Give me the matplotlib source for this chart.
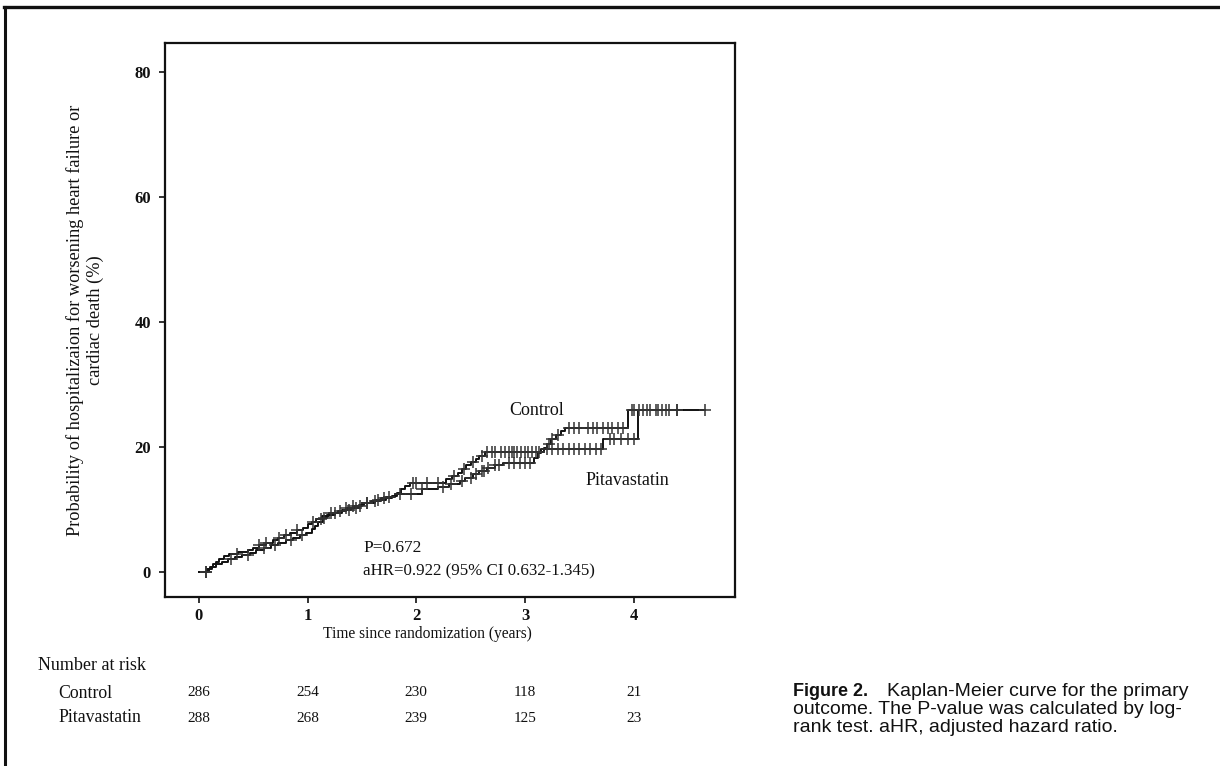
import numpy as np
import matplotlib
matplotlib.use("Agg")
import matplotlib.pyplot as plt
from matplotlib import transforms, font_manager
from matplotlib.lines import Line2D

# Kaplan-Meier cumulative incidence (%) - event times (years) and level after each step
ctrl_t = [0.00, 0.08, 0.10, 0.13, 0.16, 0.19, 0.23, 0.28, 0.36, 0.45,
          0.50, 0.55, 0.62, 0.68, 0.73, 0.78, 0.84, 0.90, 0.96, 1.00,
          1.04, 1.08, 1.13, 1.20, 1.28, 1.35, 1.42, 1.50, 1.58, 1.68,
          1.78, 1.82, 1.86, 1.90, 1.94, 2.27, 2.33, 2.38, 2.42, 2.46,
          2.50, 2.55, 2.58, 2.63, 3.17, 3.20, 3.24, 3.28, 3.33, 3.37,
          3.95]
ctrl_p = [0, 0.4, 0.8, 1.2, 1.6, 2.1, 2.5, 2.9, 3.2, 3.5,
          3.9, 4.3, 4.7, 5.1, 5.5, 5.9, 6.3, 6.7, 7.1, 7.6,
          8.0, 8.5, 9.0, 9.4, 9.8, 10.2, 10.6, 11.0, 11.4, 11.8,
          12.2, 12.7, 13.2, 13.7, 14.2, 14.8, 15.3, 15.9, 16.5, 17.1,
          17.6, 18.1, 18.6, 19.2, 19.8, 20.5, 21.2, 21.9, 22.5, 23.1,
          25.9]
ctrl_end = 4.65
ctrl_cens = [0.07, 0.35, 0.55, 0.62, 0.74, 0.80, 0.90, 1.05, 1.12, 1.22,
             1.30, 1.35, 1.42, 1.48, 1.55, 1.62, 1.70, 1.97, 2.00, 2.10,
             2.20, 2.35, 2.44, 2.52, 2.60, 2.65, 2.70, 2.72, 2.78, 2.82,
             2.85, 2.88, 2.90, 2.93, 2.96, 3.00, 3.03, 3.06, 3.10, 3.13,
             3.22, 3.25, 3.30, 3.40, 3.45, 3.50, 3.58, 3.62, 3.66, 3.72,
             3.76, 3.80, 3.85, 3.90, 3.98, 4.00, 4.05, 4.12, 4.20, 4.26,
             4.32, 4.40, 4.65]

pit_t = [0.00, 0.09, 0.12, 0.16, 0.21, 0.27, 0.33, 0.40, 0.47, 0.53,
         0.60, 0.66, 0.73, 0.80, 0.87, 0.93, 0.99, 1.04, 1.07, 1.10,
         1.14, 1.18, 1.25, 1.32, 1.40, 1.47, 1.52, 1.62, 1.72, 1.80,
         2.05, 2.20, 2.30, 2.40, 2.45, 2.52, 2.58, 2.65, 2.72, 2.80,
         3.08, 3.12, 3.15, 3.72, 4.04]
pit_p = [0, 0.4, 0.8, 1.2, 1.6, 2.0, 2.4, 2.7, 3.1, 3.5,
         3.9, 4.3, 4.7, 5.1, 5.5, 5.9, 6.3, 6.8, 7.4, 8.0,
         8.6, 9.1, 9.5, 9.9, 10.3, 10.7, 11.1, 11.5, 12.0, 12.5,
         13.2, 13.6, 14.1, 14.6, 15.1, 15.6, 16.1, 16.6, 17.1, 17.5,
         18.3, 19.0, 19.7, 21.3, 25.9]
pit_end = 4.45
pit_cens = [0.07, 0.30, 0.45, 0.60, 0.70, 0.85, 0.95, 1.15, 1.25, 1.38,
            1.45, 1.55, 1.65, 1.75, 1.85, 1.95, 2.05, 2.25, 2.32, 2.42,
            2.50, 2.55, 2.60, 2.62, 2.66, 2.72, 2.76, 2.85, 2.90, 2.95,
            3.00, 3.05, 3.20, 3.25, 3.30, 3.35, 3.40, 3.45, 3.50, 3.55,
            3.60, 3.65, 3.70, 3.78, 3.82, 3.88, 3.95, 4.00, 4.08, 4.15,
            4.22, 4.30, 4.40]

x_ticks = [0, 1, 2, 3, 4]
y_ticks = [0, 20, 40, 60, 80]

risk_groups = ["Control", "Pitavastatin"]
risk_ctrl = [286, 254, 230, 118, 21]
risk_pit = [288, 268, 239, 125, 23]

SERIF = ["Liberation Serif", "DejaVu Serif"]
SANS = ["Liberation Sans", "DejaVu Sans"]
installed = {f.name for f in font_manager.fontManager.ttflist}
NARROW = ["Liberation Sans Narrow"] + SANS if "Liberation Sans Narrow" in installed else SANS
narrow_size = 14 if NARROW[0] == "Liberation Sans Narrow" else 13

W, H = 1220, 766
fig = plt.figure(figsize=(W / 100, H / 100), dpi=100)
fig.patch.set_facecolor("white")


def fx(px):
    return px / W


def fy(py):
    return 1 - py / H


ax = fig.add_axes([fx(165), fy(597), fx(735) - fx(165), fy(43) - fy(597)])
ax.set_xlim(-0.31, 4.93)
ax.set_ylim(-4.0, 84.6)


def level_at(times, levels, query):
    idx = np.searchsorted(np.asarray(times), np.asarray(query), side="right") - 1
    return np.asarray(levels)[idx]


ink = "#111111"
for times, levels, end, cens in [(ctrl_t, ctrl_p, ctrl_end, ctrl_cens),
                                 (pit_t, pit_p, pit_end, pit_cens)]:
    xs = list(times) + [end]
    ys = list(levels) + [levels[-1]]
    ax.plot(xs, ys, drawstyle="steps-post", color=ink, lw=1.4, zorder=3)
    ax.plot(cens, level_at(times, levels, cens), ls="none", marker="+",
            ms=8, mew=1.1, color="#333333", zorder=4)

ax.text(3.11, 25.9, "Control", fontsize=13, family=SERIF, ha="center",
        va="center", color=ink)
ax.text(3.94, 14.6, "Pitavastatin", fontsize=13, family=SERIF, ha="center",
        va="center", color=ink)
ax.text(1.51, 3.9, "P=0.672", fontsize=12.5, family=SERIF, ha="left",
        va="center", color=ink)
ax.text(1.51, 0.1, "aHR=0.922 (95% CI 0.632-1.345)", fontsize=12.2,
        family=SERIF, ha="left", va="center", color=ink)

ax.set_xticks(x_ticks)
ax.set_yticks(y_ticks)
for lab in ax.get_xticklabels() + ax.get_yticklabels():
    lab.set_family(SERIF)
    lab.set_fontweight("bold")
    lab.set_fontsize(12)
ax.tick_params(axis="both", direction="out", length=4, width=1.2,
               color=ink, labelcolor=ink)
ax.tick_params(axis="x", pad=4)
ax.tick_params(axis="y", pad=6)
for sp in ax.spines.values():
    sp.set_linewidth(1.6)
    sp.set_color(ink)

fig.text(fx(85), fy(320),
         "Probability of hospitalizaion for worsening heart failure or\ncardiac death (%)",
         rotation=90, ha="center", va="center", multialignment="center",
         fontsize=13.2, family=SERIF, color=ink, linespacing=1.25)

fig.text(fx(427), fy(634), "Time since randomization (years)", ha="center",
         va="center", fontsize=11.2, family=SERIF, color=ink)

fig.text(fx(38), fy(666), "Number at risk", ha="left", va="center",
         fontsize=13, family=SERIF, color=ink)

blend = transforms.blended_transform_factory(ax.transData, fig.transFigure)
for row_y, name, counts in [(693, risk_groups[0], risk_ctrl),
                            (718, risk_groups[1], risk_pit)]:
    fig.text(fx(58), fy(row_y), name, ha="left", va="center", fontsize=12.8,
             family=SERIF, color=ink)
    for t, n in zip(x_ticks, counts):
        ax.text(t, fy(row_y), str(n), transform=blend, ha="center",
                va="center", fontsize=11, family=SERIF, color=ink)

# caption
fig.text(fx(793), fy(692), "Figure 2.", ha="left", va="center",
         fontsize=narrow_size, family=NARROW, fontweight="bold", color=ink)
fig.text(fx(887), fy(692), "Kaplan-Meier curve for the primary", ha="left",
         va="center", fontsize=14, family=SANS, color=ink)
fig.text(fx(793), fy(710), "outcome. The P-value was calculated by log-",
         ha="left", va="center", fontsize=14, family=SANS, color=ink)
fig.text(fx(793), fy(727), "rank test. aHR, adjusted hazard ratio.",
         ha="left", va="center", fontsize=14, family=SANS, color=ink)

# page frame
fig.add_artist(Line2D([fx(4), 1.0], [fy(7), fy(7)], transform=fig.transFigure,
                      color=ink, lw=2.4))
fig.add_artist(Line2D([fx(5), fx(5)], [0.0, fy(7)], transform=fig.transFigure,
                      color=ink, lw=2.2))

fig.savefig("out.png", dpi=100, facecolor="white")
